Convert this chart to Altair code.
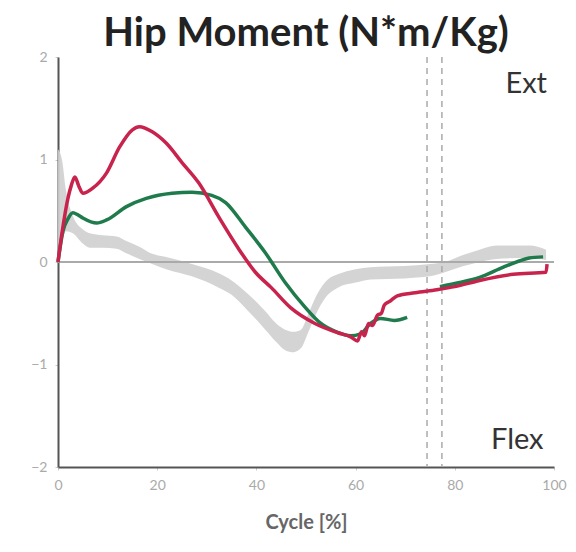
import altair as alt
import pandas as pd

# Red curve
red_x = [0, 0.8, 2, 2.7, 3.4, 4.2, 5, 7, 9.8, 12.4, 15, 16.4, 19, 21.8, 25, 28.4, 32.4, 36.4,
         39.8, 43, 47, 51.8, 56.4, 59, 60.4, 61.2, 61.8, 62.6, 63.4, 64.4, 65.2, 65.8, 67,
         68.4, 72, 76.4, 80, 85, 91.8, 98.4, 98.6]
red_y = [0, 0.28, 0.62, 0.75, 0.83, 0.74, 0.67, 0.72, 0.87, 1.12, 1.29, 1.32, 1.27, 1.16, 0.97,
         0.77, 0.44, 0.13, -0.1, -0.25, -0.45, -0.6, -0.69, -0.73, -0.77, -0.68, -0.72, -0.6,
         -0.62, -0.52, -0.5, -0.42, -0.38, -0.33, -0.3, -0.27, -0.24, -0.18, -0.12, -0.1, -0.02]

# Green curve, stance part
green1_x = [0, 1, 2, 3, 4, 5, 7.8, 9.8, 13.8, 17.8, 23, 27, 31, 33.8, 37.8, 41.8, 45.8, 49.8,
            53, 56, 59, 61, 63, 65, 67.8, 70.4]
green1_y = [0, 0.3, 0.42, 0.48, 0.46, 0.43, 0.38, 0.41, 0.54, 0.62, 0.67, 0.68, 0.65, 0.58,
            0.34, 0.09, -0.2, -0.44, -0.6, -0.68, -0.72, -0.7, -0.6, -0.55, -0.57, -0.54]
# Green curve, swing part
green2_x = [77, 81, 85, 89.8, 93, 95, 97.8]
green2_y = [-0.24, -0.2, -0.15, -0.05, 0.01, 0.04, 0.05]

# Normative gray band
band_x = [0, 0.8, 1.6, 3, 5, 6.4, 9, 11.8, 14, 16.4, 19, 21.8, 27, 32.4, 35, 37.8, 41.8, 44,
          45.8, 47.5, 49, 50.5, 52.4, 54.4, 56.4, 60, 63, 69.8, 75, 78, 81.8, 85, 88.4, 95, 98.4]
band_lo = [0.0, 0.2, 0.3, 0.28, 0.18, 0.14, 0.14, 0.13, 0.08, 0.03, -0.02, -0.07, -0.14, -0.25,
           -0.32, -0.45, -0.66, -0.78, -0.86, -0.88, -0.84, -0.68, -0.47, -0.32, -0.25, -0.2,
           -0.17, -0.16, -0.14, -0.1, -0.04, 0.0, 0.03, 0.04, 0.02]
band_hi = [1.1, 1.0, 0.7, 0.45, 0.32, 0.28, 0.26, 0.25, 0.2, 0.15, 0.08, 0.05, -0.02, -0.11,
           -0.18, -0.29, -0.48, -0.6, -0.66, -0.68, -0.66, -0.5, -0.3, -0.17, -0.12, -0.07,
           -0.05, -0.04, -0.02, 0.0, 0.07, 0.12, 0.16, 0.16, 0.12]

toe_off = [74.4, 77.4]
x_ticks = [0, 20, 40, 60, 80, 100]
y_ticks = [-2, -1, 0, 1, 2]

FONT = "Lato"

xs = alt.Scale(domain=[0, 100], nice=False)
ys = alt.Scale(domain=[-2, 2], nice=False)

band_df = pd.DataFrame({"x": band_x, "lo": band_lo, "hi": band_hi})
red_df = pd.DataFrame({"x": red_x, "y": red_y})
green_df = pd.concat([
    pd.DataFrame({"x": green1_x, "y": green1_y, "seg": "a"}),
    pd.DataFrame({"x": green2_x, "y": green2_y, "seg": "b"}),
])
zero_df = pd.DataFrame({"x": [0], "x2": [100], "y": [0]})
dash_df = pd.DataFrame({"x": toe_off})
label_df = pd.DataFrame({"x": [94.4, 92.6], "y": [1.74, -1.74], "t": ["Ext", "Flex"]})

xaxis = alt.Axis(values=x_ticks, title="Cycle [%]", grid=False, labelFlush=False, format="d")
yaxis = alt.Axis(values=y_ticks, title=None, grid=False, format="d")

band = alt.Chart(band_df).mark_area(color="#cfcfcf", opacity=0.9, interpolate="monotone").encode(
    x=alt.X("x:Q", scale=xs, axis=xaxis),
    y=alt.Y("lo:Q", scale=ys, axis=yaxis),
    y2="hi:Q",
)

zero = alt.Chart(zero_df).mark_rule(color="#aaaaaa", strokeWidth=2).encode(
    x=alt.X("x:Q", scale=xs), x2="x2:Q", y=alt.Y("y:Q", scale=ys)
)

dashes = alt.Chart(dash_df).mark_rule(color="#aaaaaa", strokeWidth=1.5, strokeDash=[6, 5]).encode(
    x=alt.X("x:Q", scale=xs)
)

green = alt.Chart(green_df).mark_line(color="#1f7a4c", strokeWidth=3.5, interpolate="monotone").encode(
    x=alt.X("x:Q", scale=xs), y=alt.Y("y:Q", scale=ys), detail="seg:N"
)

red = alt.Chart(red_df).mark_line(color="#c8234c", strokeWidth=3.5, interpolate="monotone").encode(
    x=alt.X("x:Q", scale=xs), y=alt.Y("y:Q", scale=ys)
)

labels = alt.Chart(label_df).mark_text(font=FONT, fontSize=29, color="#333333", align="center",
                                       baseline="middle").encode(
    x=alt.X("x:Q", scale=xs), y=alt.Y("y:Q", scale=ys), text="t:N"
)

chart = alt.layer(band, zero, dashes, green, red, labels).properties(
    width=496,
    height=410,
    autosize=alt.AutoSizeParams(type="none"),
    padding={"left": 50, "top": 49, "right": 14, "bottom": 77},
    title=alt.TitleParams("Hip Moment (N*m/Kg)", font=FONT, fontSize=40, fontWeight="bold",
                          color="#222222", anchor="middle", offset=10, dy=14),
).configure_view(stroke=None).configure_axis(
    domainColor="#555555", domainWidth=2, labelColor="#aaaaaa", labelFontSize=14,
    labelFont=FONT, tickColor="#cccccc", tickSize=3, labelPadding=8,
    titleFont=FONT, titleFontSize=20, titleColor="#666666", titleFontWeight="bold",
    titlePadding=20,
)

chart.save("out.html", embed_options={"renderer": "svg", "actions": False})
